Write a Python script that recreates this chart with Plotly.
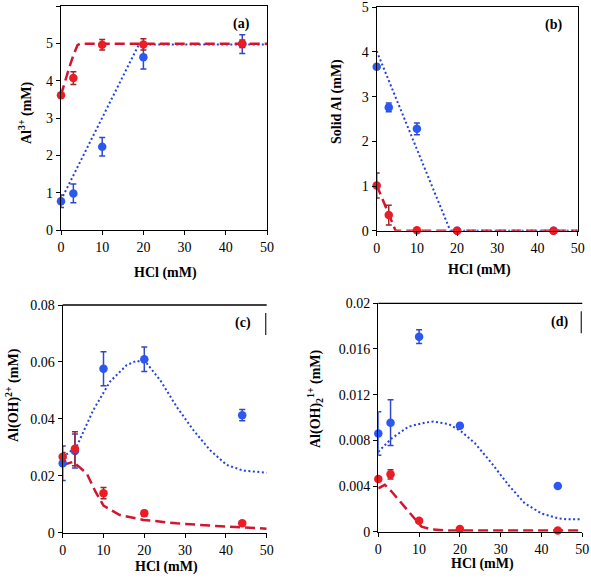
import plotly.graph_objects as go

W, H = 591, 580

# ---------------- data ----------------
hcl = [0, 3, 10, 20, 44]

# (a) Al3+
a_blue = [0.77, 0.98, 2.23, 4.63, 4.98]
a_blue_err = [0.17, 0.25, 0.25, 0.32, 0.25]
a_red = [3.61, 4.07, 4.96, 4.97, 4.99]
a_red_err = [0.04, 0.17, 0.14, 0.15, 0.1]
a_blue_fit_x = [0, 18.9, 50]
a_blue_fit_y = [0.8, 4.97, 4.97]
a_red_fit_x = [0, 1, 2, 3, 4, 4.6, 50]
a_red_fit_y = [3.62, 4.0, 4.35, 4.68, 4.95, 4.99, 4.99]

# (b) Solid Al
b_blue = [3.67, 2.76, 2.28, 0.0, 0.0]
b_blue_err = [0.05, 0.1, 0.13, 0.0, 0.0]
b_red = [1.01, 0.35, 0.01, 0.0, 0.0]
b_red_err = [0.28, 0.22, 0.0, 0.0, 0.0]
b_blue_fit_x = [0, 18.3, 50]
b_blue_fit_y = [4.02, 0.0, 0.0]
b_red_fit_x = [0, 1, 2, 3, 4, 4.7, 50]
b_red_fit_y = [1.02, 0.8, 0.57, 0.34, 0.12, 0.0, 0.0]

# (c) Al(OH)2+
c_blue = [0.0244, 0.0287, 0.0576, 0.0609, 0.0413]
c_blue_err = [0.0061, 0.006, 0.006, 0.0043, 0.002]
c_red = [0.0267, 0.0295, 0.0139, 0.0068, 0.0033]
c_red_err = [0.0015, 0.006, 0.002, 0.001, 0.0005]
c_blue_fit_x = [0, 3.4, 7.5, 11.6, 15.7, 18.1, 20.6, 23.9, 27.9, 32, 36.1, 40.2, 44.3, 50]
c_blue_fit_y = [0.0265, 0.0302, 0.0431, 0.0531, 0.0589, 0.0604, 0.0595, 0.0536, 0.0443,
                0.0361, 0.029, 0.0238, 0.0218, 0.0211]
c_red_fit_x = [0, 2.6, 5.9, 8, 10, 14, 19.8, 27.9, 36, 43.5, 50]
c_red_fit_y = [0.0238, 0.0249, 0.0208, 0.0145, 0.0095, 0.0062, 0.0045, 0.0033, 0.0025,
               0.0018, 0.0014]

# (d) Al(OH)2 1+
d_blue = [0.0086, 0.00955, 0.01708, 0.00928, 0.0040]
d_blue_err = [0.0019, 0.002, 0.0006, 0.0002, 0.0001]
d_red = [0.00461, 0.00502, 0.00096, 0.00023, 0.0001]
d_red_err = [0.0002, 0.0004, 0.0001, 0.0, 0.0]
d_blue_fit_x = [0, 3.3, 7.4, 11.4, 13.5, 17.2, 20.4, 23.7, 27.8, 31.9, 35.9, 40, 44.1, 46.6, 50]
d_blue_fit_y = [0.0070, 0.00818, 0.0092, 0.00955, 0.00964, 0.00943, 0.00876, 0.00774,
                0.00599, 0.00409, 0.00248, 0.0016, 0.00117, 0.00108, 0.00108]
d_red_fit_x = [0, 1.6, 3.3, 5.7, 8.2, 10.6, 13.1, 17.2, 50]
d_red_fit_y = [0.0038, 0.0041, 0.0035, 0.00248, 0.00146, 0.00044, 0.0002, 0.0001, 0.0001]

x_ticks = [0, 10, 20, 30, 40, 50]
x_title = "HCl (mM)"
y_titles = ["Al<sup>3+</sup> (mM)", "Solid Al (mM)", "Al(OH)<sup>2+</sup> (mM)",
            "Al(OH)<sub>2</sub><sup>1+</sup> (mM)"]
panel_labels = ["(a)", "(b)", "(c)", "(d)"]
y_ranges = [[0, 6], [0, 5], [0, 0.08], [0, 0.02]]
y_dticks = [1, 1, 0.02, 0.004]

# ---------------- styling ----------------
BLUE = "#2b57f2"
RED = "#ec1c24"
BLUE_LINE = "#2340e0"
RED_LINE = "#d21530"
BLUE_ERR = "#3048c8"
RED_ERR = "#9a2430"
FONT = "Liberation Serif"

# panel boxes in pixels: x0, x1, ytop, ybottom
boxes = [(61, 267, 6, 230), (376.7, 577.7, 7.3, 230.7),
         (62.7, 266.7, 305, 532.7), (378.3, 582.3, 303.3, 531.7)]
label_pos = [(241, 24), (553.7, 25), (243, 323), (559, 322)]
ytitle_pos = [(25, 113), (337, 102), (12, 395), (315, 399)]
xtitle_y = [273, 270, 567, 564]

def px(x):
    return x / W

def py(y):
    return 1 - y / H

panels = [
    (a_blue, a_blue_err, a_red, a_red_err, a_blue_fit_x, a_blue_fit_y, a_red_fit_x, a_red_fit_y),
    (b_blue, b_blue_err, b_red, b_red_err, b_blue_fit_x, b_blue_fit_y, b_red_fit_x, b_red_fit_y),
    (c_blue, c_blue_err, c_red, c_red_err, c_blue_fit_x, c_blue_fit_y, c_red_fit_x, c_red_fit_y),
    (d_blue, d_blue_err, d_red, d_red_err, d_blue_fit_x, d_blue_fit_y, d_red_fit_x, d_red_fit_y),
]

fig = go.Figure()
layout = dict(width=W, height=H, margin=dict(l=0, r=0, t=0, b=0, pad=0, autoexpand=False),
              paper_bgcolor="white", plot_bgcolor="white", showlegend=False,
              font=dict(family=FONT, size=14, color="black"))
annotations = []
shapes = []

for i, (bl, ble, rd, rde, bfx, bfy, rfx, rfy) in enumerate(panels):
    n = "" if i == 0 else str(i + 1)
    xa, ya = "x" + n, "y" + n
    x0, x1, yt, yb = boxes[i]
    mirror = i < 2
    layout["xaxis" + n] = dict(domain=[px(x0), px(x1)], range=[0, 50], tickvals=x_ticks,
                               showgrid=False, zeroline=False, showline=True, linecolor="black",
                               linewidth=1.3, mirror=mirror, ticks="outside", ticklen=4,
                               tickcolor="black", tickfont=dict(family=FONT, size=14),
                               anchor=ya, fixedrange=True, automargin=False)
    layout["yaxis" + n] = dict(domain=[py(yb), py(yt)], range=y_ranges[i], dtick=y_dticks[i],
                               tick0=0, showgrid=False, zeroline=False, showline=True,
                               linecolor="black", linewidth=1.3, mirror=mirror, ticks="outside",
                               ticklen=4, tickcolor="black", tickfont=dict(family=FONT, size=14),
                               anchor=xa, fixedrange=True, automargin=False)
    # fitted curves
    fig.add_trace(go.Scatter(x=bfx, y=bfy, mode="lines", xaxis=xa, yaxis=ya,
                             line=dict(color=BLUE_LINE, width=2, dash="2px,2.5px")))
    fig.add_trace(go.Scatter(x=rfx, y=rfy, mode="lines", xaxis=xa, yaxis=ya,
                             line=dict(color=RED_LINE, width=2.5, dash="10px,5px")))
    # measured points
    fig.add_trace(go.Scatter(x=hcl, y=bl, mode="markers", xaxis=xa, yaxis=ya, cliponaxis=False,
                             marker=dict(color=BLUE, size=8.5),
                             error_y=dict(type="data", array=ble, color=BLUE_ERR,
                                          thickness=1.5, width=3)))
    fig.add_trace(go.Scatter(x=hcl, y=rd, mode="markers", xaxis=xa, yaxis=ya, cliponaxis=False,
                             marker=dict(color=RED, size=8.5),
                             error_y=dict(type="data", array=rde, color=RED_ERR,
                                          thickness=1.5, width=3)))
    # labels
    common = dict(xref="paper", yref="paper", showarrow=False, xanchor="center",
                  yanchor="middle", font=dict(family=FONT, size=14))
    lx, ly = label_pos[i]
    annotations.append(dict(text="<b>" + panel_labels[i] + "</b>", x=px(lx), y=py(ly), **common))
    tx, ty = ytitle_pos[i]
    annotations.append(dict(text="<b>" + y_titles[i] + "</b>", x=px(tx), y=py(ty),
                            textangle=-90, **common))
    annotations.append(dict(text="<b>" + x_title + "</b>", x=px((x0 + x1) / 2 + 2),
                            y=py(xtitle_y[i]), **common))
    if not mirror:
        shapes.append(dict(type="line", xref="paper", yref="paper", x0=px(x0), x1=px(x1),
                           y0=py(yt), y1=py(yt), line=dict(color="black", width=1.3)))
        shapes.append(dict(type="line", xref="paper", yref="paper", x0=px(x1 - 1), x1=px(x1 - 1),
                           y0=py(yt + 8), y1=py(yt + 30), line=dict(color="#333333", width=1.3)))

layout["annotations"] = annotations
layout["shapes"] = shapes
fig.update_layout(**layout)
fig.write_html("out.html", config={"displayModeBar": False},
               post_script="document.body.style.margin='0';document.body.style.padding='0';"
                           "document.body.style.overflow='hidden';")
